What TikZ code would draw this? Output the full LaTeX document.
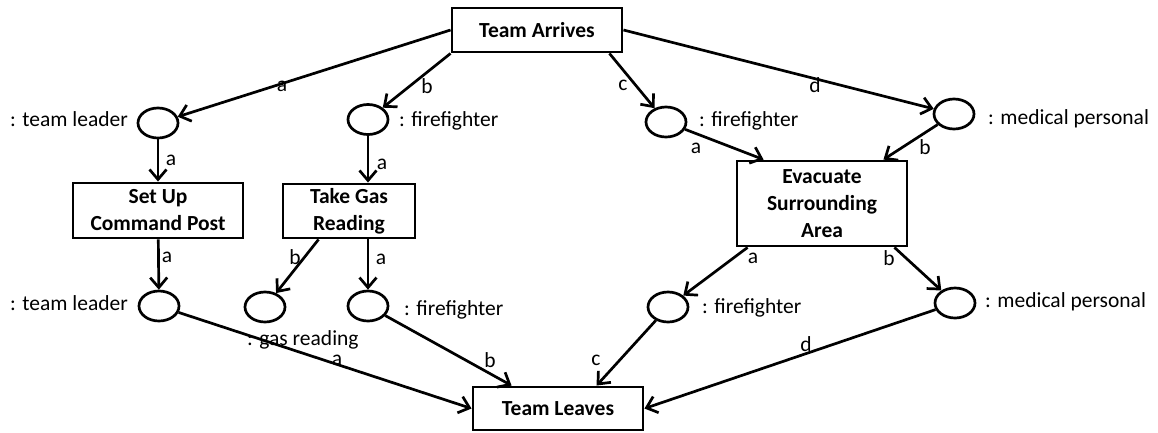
\documentclass[tikz,border=0pt]{standalone}
\usepackage{fontspec}
\setmainfont{Carlito}
\usetikzlibrary{arrows.meta,shapes.geometric}

\newcommand{\fsz}{\fontsize{21.5}{27}\selectfont}

\tikzset{
  trans/.style={draw, line width=2.9pt, font=\fsz\bfseries, align=center, inner sep=0pt},
  place/.style={draw, ellipse, line width=2.7pt, minimum width=40pt, minimum height=30pt, inner sep=0pt},
  flow/.style={line width=2.7pt, -{Straight Barb[length=10pt,width=17pt]}},
  lbl/.style={font=\fsz, inner sep=0pt},
}

\begin{document}
\begin{tikzpicture}[x=1pt,y=-1pt]
\useasboundingbox (0,0) rectangle (1158,432);

% transitions
\node[trans, minimum width=170pt, minimum height=44pt] (ta) at (537,30) {Team Arrives};
\node[trans, minimum width=170pt, minimum height=55pt] (setup) at (158,210.5) {Set Up\\Command Post};
\node[trans, minimum width=132pt, minimum height=54pt] (gas) at (349,211) {Take Gas\\Reading};
\node[trans, minimum width=170pt, minimum height=85pt] (evac) at (822,203.5) {Evacuate\\Surrounding\\Area};
\node[trans, minimum width=170pt, minimum height=43pt] (tl) at (558,408.5) {Team Leaves};

% places
\node[place] (p1) at (158,123) {};
\node[place] (p2) at (368,119.5) {};
\node[place] (p3) at (666,122) {};
\node[place] (p4) at (954,114) {};
\node[place] (p5) at (159,306) {};
\node[place] (p6) at (265,307) {};
\node[place] (p7) at (368,306) {};
\node[place] (p8) at (668,307) {};
\node[place] (p9) at (955,303) {};

% place names
\node[lbl, anchor=base east] (n1) at (128,126) {: team leader};
\node[lbl, anchor=base west] (n2) at (399,126) {: firefighter};
\node[lbl, anchor=base west] (n3) at (699,126) {: firefighter};
\node[lbl, anchor=base west] (n4) at (988,124) {: medical personal};
\node[lbl, anchor=base east] (n5) at (128,310) {: team leader};
\node[lbl, anchor=base west] (n6) at (247,345) {: gas reading};
\node[lbl, anchor=base west] (n7) at (404,315) {: firefighter};
\node[lbl, anchor=base west] (n8) at (702,313) {: firefighter};
\node[lbl, anchor=base west] (n9) at (985,307) {: medical personal};

% arcs
\draw[flow] (ta.west) -- (p1);
\draw[flow] (ta.south west) -- (p2);
\draw[flow] ([xshift=-14pt]ta.south east) -- (p3);
\draw[flow] (ta.east) -- (p4);
\draw[flow] (p1) -- (setup);
\draw[flow] (p2) -- (p2 |- gas.north);
\draw[flow] (p3) -- ([xshift=28pt]evac.north west);
\draw[flow] (p4) -- ([xshift=-25pt]evac.north east);
\draw[flow] (setup) -- (p5);
\draw[flow] ([xshift=37pt]gas.south west) -- (p6);
\draw[flow] (p7 |- gas.south) -- (p7);
\draw[flow] ([xshift=12pt]evac.south west) -- (p8);
\draw[flow] ([xshift=-14pt]evac.south east) -- (p9);
\draw[flow] (p5) -- (tl.west);
\draw[flow] (p7) -- ([xshift=40pt]tl.north west);
\draw[flow] (p8) -- ([xshift=125pt]tl.north west);
\draw[flow] (p9) -- (tl.east);

% arc labels
\node[lbl] (e1) at (282,86) {a};
\node[lbl] (e2) at (427,86) {b};
\node[lbl] (e3) at (623,85) {c};
\node[lbl] (e4) at (815,85) {d};
\node[lbl] (e5) at (171,160) {a};
\node[lbl] (e6) at (382,164) {a};
\node[lbl] (e7) at (696,148) {a};
\node[lbl] (e8) at (925,147) {b};
\node[lbl] (e9) at (167,257) {a};
\node[lbl] (e10) at (295,257) {b};
\node[lbl] (e11) at (381,259) {a};
\node[lbl] (e12) at (753,258) {a};
\node[lbl] (e13) at (889,258) {b};
\node[lbl] (e14) at (337,360) {a};
\node[lbl] (e15) at (490,360) {b};
\node[lbl] (e16) at (596,360) {c};
\node[lbl] (e17) at (806,344) {d};
\end{tikzpicture}
\end{document}
